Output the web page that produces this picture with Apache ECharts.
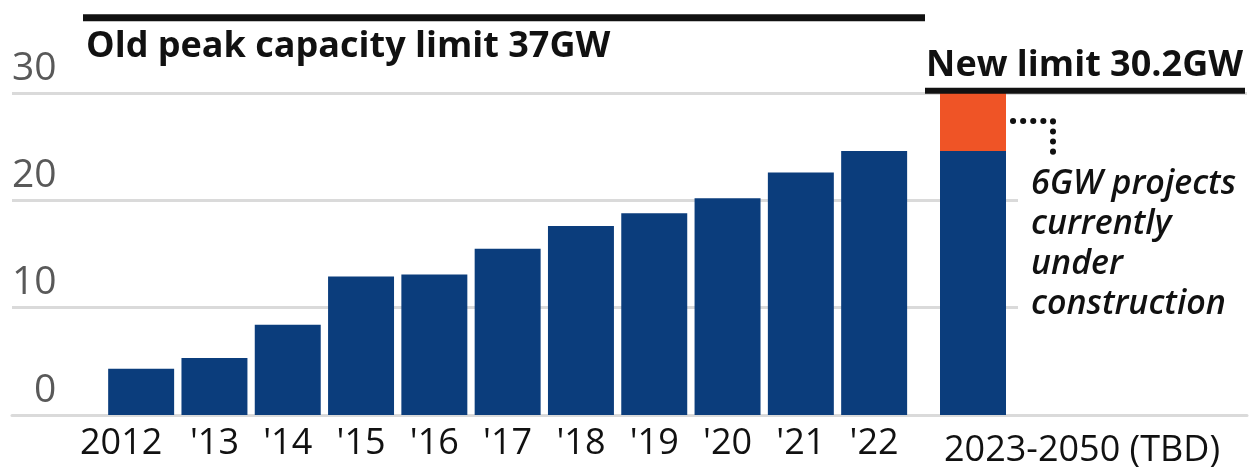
<!DOCTYPE html>
<html>
<head>
<meta charset="utf-8">
<script src="https://cdn.jsdelivr.net/npm/echarts@6/dist/echarts.min.js"></script>
<style>
  html, body { margin: 0; padding: 0; background: #fff; }
  #chart { width: 1251px; height: 468px; }
</style>
</head>
<body>
<div id="chart"></div>
<script>
// data (GW)
const years = ['2012', "'13", "'14", "'15", "'16", "'17", "'18", "'19", "'20", "'21", "'22"];
const capacity = [4.3, 5.3, 8.4, 12.9, 13.1, 15.5, 17.6, 18.8, 20.2, 22.6, 24.6];
const futureLabel = ['2023-2050 (TBD)'];
const futureExisting = [24.6];
const futureUnderConstruction = [5.6];
const yTicks = [0, 10, 20, 30];
const oldLimit = 37;
const newLimit = 30.2;
const oldLimitText = 'Old peak capacity limit 37GW';
const newLimitText = 'New limit 30.2GW';
const noteLines = ['6GW projects', 'currently', 'under', 'construction'];

const font = '"Open Sans", "Noto Sans", sans-serif';
const c = {
  navy: '#0b3d7c',
  orange: '#ef5426',
  grid: '#dadada',
  text: '#111111',
  muted: '#595959',
};

const yMin = yTicks[0];
const yMax = yTicks[yTicks.length - 1];
const yStep = yTicks[1] - yTicks[0];
const hiddenY = (gridIndex) => ({ gridIndex, type: 'value', min: yMin, max: yMax, interval: yStep, show: false });

const chart = echarts.init(document.getElementById('chart'));

chart.setOption({
  animation: false,
  grid: [
    { left: 12, right: 4, top: 93, bottom: 53 },         // gridlines + y labels
    { left: 104.5, right: 340.2, top: 93, bottom: 53 },  // 2012-'22
    { left: 940, width: 66, top: 93, bottom: 53 },       // 2023-2050
  ],
  xAxis: [
    {
      gridIndex: 0, type: 'value', min: 0, max: 1,
      axisLine: { show: true, lineStyle: { color: c.grid, width: 3 } },
      axisTick: { show: false }, axisLabel: { show: false }, splitLine: { show: false },
    },
    {
      gridIndex: 1, type: 'category', data: years,
      axisLine: { show: false }, axisTick: { show: false },
      axisLabel: {
        interval: 0, hideOverlap: false, margin: 11, fontSize: 36, color: c.text, fontFamily: font,
        formatter: (v, i) => (i === 0 ? `{first|${v}}` : v),
        rich: { first: { fontSize: 36, color: c.text, fontFamily: font, padding: [0, 40, 0, 0] } },
      },
    },
    { gridIndex: 2, type: 'category', data: futureLabel, show: false },
  ],
  yAxis: [
    {
      gridIndex: 0, type: 'value', min: yMin, max: yMax, interval: yStep,
      axisLine: { show: false }, axisTick: { show: false },
      splitLine: { lineStyle: { color: c.grid, width: 3 } },
      axisLabel: {
        inside: true, margin: 0, verticalAlign: 'bottom',
        formatter: (v) => (v === 0 ? `{zero|${v}}` : `{n|${v}}`),
        rich: {
          n: { fontSize: 39, color: c.muted, fontFamily: font, padding: [0, 0, 5, 0] },
          zero: { fontSize: 39, color: c.muted, fontFamily: font, padding: [0, 0, 5, 22] },
        },
      },
    },
    hiddenY(1),
    hiddenY(2),
  ],
  series: [
    {
      type: 'bar', xAxisIndex: 1, yAxisIndex: 1, data: capacity,
      barCategoryGap: '10%', itemStyle: { color: c.navy }, silent: true,
    },
    {
      type: 'bar', xAxisIndex: 2, yAxisIndex: 2, stack: 'future', data: futureExisting,
      barWidth: '100%', itemStyle: { color: c.navy }, silent: true,
      label: {
        show: true, position: 'insideBottomLeft', distance: 0, offset: [4, 54],
        formatter: '{b}', fontSize: 36, color: c.text, fontFamily: font,
      },
    },
    {
      type: 'bar', xAxisIndex: 2, yAxisIndex: 2, stack: 'future', data: futureUnderConstruction,
      barWidth: '100%', itemStyle: { color: c.orange }, silent: true,
    },
  ],
});

// annotations, placed on the value scale of the chart
const yOf = (v) => chart.convertToPixel({ yAxisIndex: 0 }, v);
const yOld = yOf(oldLimit);
const yNew = yOf(newLimit);
const yMid = yOf(futureExisting[0] + futureUnderConstruction[0] / 2);

chart.setOption({
  graphic: [
    { type: 'line', z: 100, shape: { x1: 83, y1: yOld, x2: 925, y2: yOld }, style: { stroke: c.text, lineWidth: 7 } },
    {
      type: 'text', z: 100, x: 86, y: yOld + 11,
      style: { text: oldLimitText, font: `bold 36px ${font}`, fill: c.text },
    },
    { type: 'line', z: 100, shape: { x1: 925, y1: yNew, x2: 1245, y2: yNew }, style: { stroke: c.text, lineWidth: 6 } },
    {
      type: 'text', z: 100, x: 1243, y: yNew - 7,
      style: { text: newLimitText, font: `bold 36px ${font}`, fill: c.text, textAlign: 'right', textVerticalAlign: 'bottom' },
    },
    {
      type: 'polyline', z: 100,
      shape: { points: [[1013, yMid], [1053, yMid], [1053, yMid + 34]] },
      style: { stroke: c.text, lineWidth: 6, lineCap: 'round', lineDash: [0.1, 10], fill: null },
    },
    // white panel so the gridlines stop short of the note
    { type: 'rect', z: 99, shape: { x: 1018, y: 165, width: 233, height: 165 }, style: { fill: '#fff' } },
    {
      type: 'text', z: 100, x: 1031, y: 164,
      style: {
        text: noteLines.join('\n'), font: `italic 600 34px ${font}`, lineHeight: 40, fill: c.text,
      },
    },
  ],
});
</script>
</body>
</html>
